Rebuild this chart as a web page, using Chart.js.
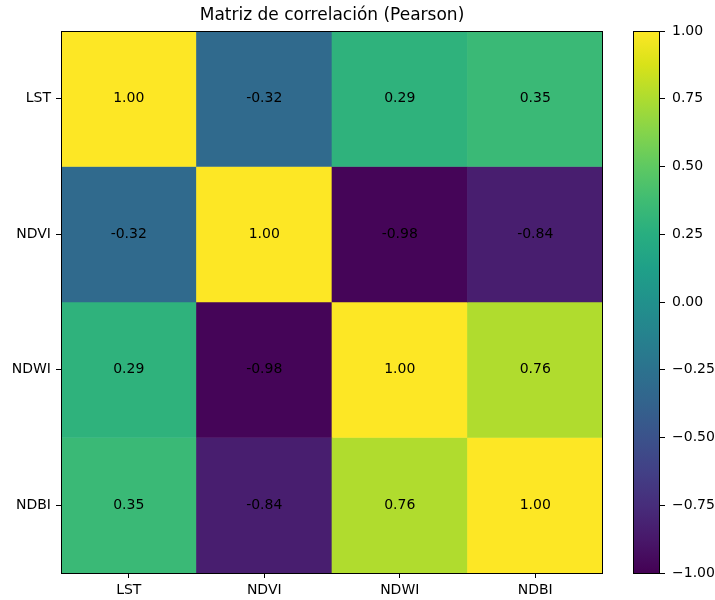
<!DOCTYPE html>
<html lang="es">
<head>
<meta charset="utf-8">
<title>Matriz de correlación</title>
<script src="https://cdn.jsdelivr.net/npm/chart.js@4.4.1/dist/chart.umd.min.js"></script>
<style>
  body { margin: 0; background: #fff; }
  #wrap { position: relative; width: 715px; height: 600px; }
  #heat { position: absolute; left: 0; top: 0; }
  #cbar { position: absolute; left: 603px; top: 0; }
</style>
</head>
<body>
<div id="wrap">
  <canvas id="heat" width="664" height="600"></canvas>
  <canvas id="cbar" width="112" height="600"></canvas>
</div>
<script>
// variables and Pearson coefficients, one row per variable
const variables = ['LST', 'NDVI', 'NDWI', 'NDBI'];
const corrLST  = [1.00, -0.32, 0.29, 0.35];
const corrNDVI = [-0.32, 1.00, -0.98, -0.84];
const corrNDWI = [0.29, -0.98, 1.00, 0.76];
const corrNDBI = [0.35, -0.84, 0.76, 1.00];
const corrRows = [corrLST, corrNDVI, corrNDWI, corrNDBI];
const vmin = -1, vmax = 1;
const titleText = 'Matriz de correlación (Pearson)';

// viridis, 17 samples
const viridis = ['#440154','#48186a','#472d7b','#424086','#3b528b','#33638d','#2c728e','#26828e',
  '#21918c','#1fa088','#28ae80','#3fbc73','#5ec962','#84d44b','#addc30','#d8e219','#fde725'];

function hexRgb(h) {
  return [parseInt(h.slice(1, 3), 16), parseInt(h.slice(3, 5), 16), parseInt(h.slice(5, 7), 16)];
}
function cmap(v) {
  let t = (v - vmin) / (vmax - vmin);
  t = Math.max(0, Math.min(1, t));
  const f = t * (viridis.length - 1);
  const i = Math.min(Math.floor(f), viridis.length - 2);
  const a = hexRgb(viridis[i]), b = hexRgb(viridis[i + 1]);
  const k = f - i;
  const c = a.map((x, j) => Math.round(x + (b[j] - x) * k));
  return 'rgb(' + c.join(',') + ')';
}

const FONT = 'DejaVu Sans';
Chart.defaults.font.family = FONT;
Chart.defaults.color = '#000';

// frame, title over the plot area, cell values
const framePlugin = {
  id: 'frame',
  afterDatasetsDraw(chart) {
    const ctx = chart.ctx;
    const a = chart.chartArea;
    if (chart.canvas.id === 'heat') {
      ctx.save();
      ctx.fillStyle = '#000';
      ctx.textAlign = 'center';
      ctx.textBaseline = 'middle';
      ctx.font = '14px ' + FONT;
      chart.data.datasets.forEach((ds, r) => {
        chart.getDatasetMeta(r).data.forEach((bar, c) => {
          const p = bar.getCenterPoint();
          ctx.fillText(corrRows[r][c].toFixed(2), p.x, p.y);
        });
      });
      ctx.font = '17px ' + FONT;
      ctx.fillText(titleText, (a.left + a.right) / 2, 16);
      ctx.restore();
    }
    ctx.save();
    ctx.strokeStyle = '#000';
    ctx.lineWidth = 1;
    ctx.strokeRect(a.left + 0.5, a.top + 0.5, a.right - a.left - 1, a.bottom - a.top);
    ctx.restore();
  }
};

new Chart(document.getElementById('heat'), {
  type: 'bar',
  data: {
    labels: variables,
    datasets: corrRows.map((row, r) => ({
      label: variables[r],
      data: row.map(() => 1),
      backgroundColor: row.map(cmap),
      borderWidth: 0,
      barPercentage: 1,
      categoryPercentage: 1
    }))
  },
  options: {
    responsive: false,
    animation: false,
    layout: { padding: { left: 0, right: 61, top: 31, bottom: 0 } },
    plugins: {
      legend: { display: false },
      tooltip: { enabled: false }
    },
    scales: {
      x: {
        stacked: true,
        grid: { display: true, offset: false, drawOnChartArea: false, tickLength: 5, color: '#000' },
        border: { display: false },
        ticks: { font: { size: 14 }, padding: 4, color: '#000' },
        afterFit(s) { s.height = 27; }
      },
      y: {
        stacked: true,
        reverse: true,
        min: 0,
        max: 4,
        grid: { display: true, drawOnChartArea: false, tickLength: 5, color: '#000' },
        border: { display: false },
        afterBuildTicks(s) { s.ticks = variables.map((v, i) => ({ value: i + 0.5 })); },
        ticks: {
          font: { size: 14 },
          padding: 5,
          color: '#000',
          callback: (v, i) => variables[i]
        },
        afterFit(s) { s.width = 61; }
      }
    }
  },
  plugins: [framePlugin]
});

// colour bar
function barGradient(ctx) {
  const area = ctx.chart.chartArea;
  if (!area) return viridis[0];
  const g = ctx.chart.ctx.createLinearGradient(0, area.bottom, 0, area.top);
  viridis.forEach((c, i) => g.addColorStop(i / (viridis.length - 1), c));
  return g;
}

new Chart(document.getElementById('cbar'), {
  type: 'bar',
  data: {
    labels: [''],
    datasets: [{
      data: [[vmin, vmax]],
      backgroundColor: barGradient,
      borderWidth: 0,
      barPercentage: 1,
      categoryPercentage: 1
    }]
  },
  options: {
    responsive: false,
    animation: false,
    layout: { padding: { left: 30, right: 0, top: 31, bottom: 27 } },
    plugins: { legend: { display: false }, tooltip: { enabled: false } },
    scales: {
      x: { display: false },
      y: {
        position: 'right',
        min: vmin,
        max: vmax,
        grid: { display: true, drawOnChartArea: false, tickLength: 5, color: '#000' },
        border: { display: false },
        ticks: {
          stepSize: 0.25,
          font: { size: 14 },
          padding: 7,
          color: '#000',
          callback: v => (v < 0 ? '\u2212' : '') + Math.abs(v).toFixed(2)
        },
        afterFit(s) { s.width = 55; }
      }
    }
  },
  plugins: [framePlugin]
});
</script>
</body>
</html>
